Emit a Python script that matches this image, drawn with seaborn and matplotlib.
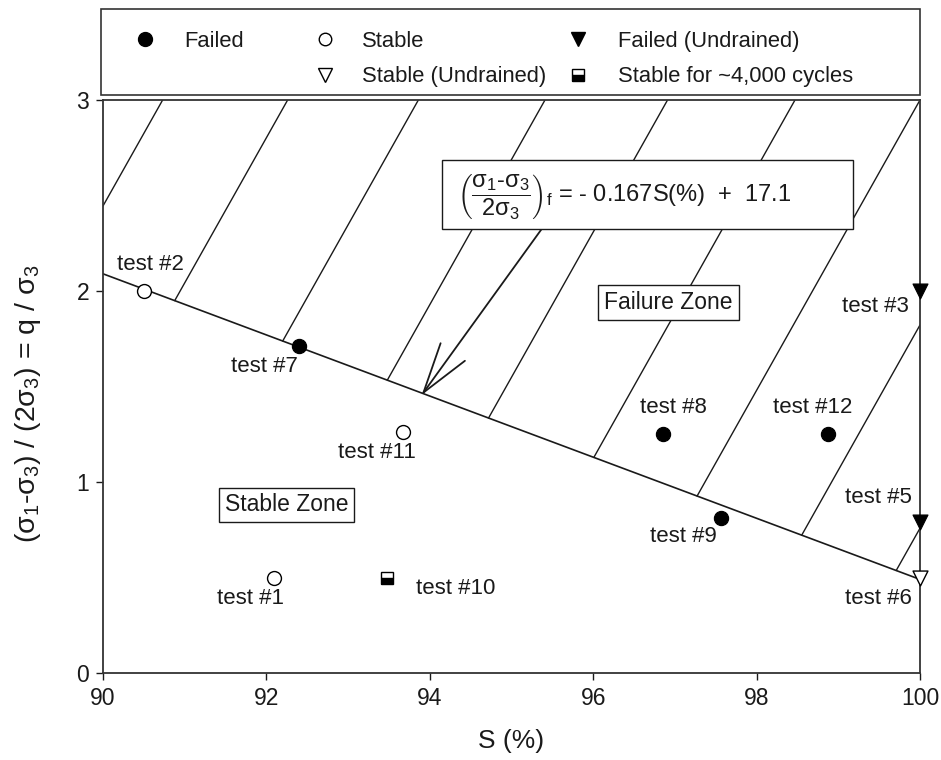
import numpy as np
import matplotlib
matplotlib.use("Agg")
import matplotlib.pyplot as plt
import seaborn as sns
import pandas as pd
from matplotlib.lines import Line2D
from matplotlib.patches import Rectangle

# ---------------- data ----------------
failed_x = [92.40, 96.85, 98.87, 97.56]
failed_y = [1.71, 1.25, 1.25, 0.81]
failed_lab = ["test #7", "test #8", "test #12", "test #9"]

stable_x = [90.50, 93.67, 92.09]
stable_y = [2.00, 1.26, 0.50]
stable_lab = ["test #2", "test #11", "test #1"]

failed_und_x = [100.0, 100.0]
failed_und_y = [2.00, 0.79]
failed_und_lab = ["test #3", "test #5"]

stable_und_x = [100.0]
stable_und_y = [0.50]
stable_und_lab = ["test #6"]

cycles_x = [93.48]
cycles_y = [0.50]
cycles_lab = ["test #10"]

# failure envelope (drawn line) end points
fail_line_x = [90.0, 100.0]
fail_line_y = [2.09, 0.49]

# hatch lines of the failure zone: x where they meet the top (y = 3)
hatch_top_x = [90.73, 92.26, 93.86, 95.41, 96.91, 98.47, 100.0, 101.55, 102.95]
hatch_slope = 0.76

x_ticks = [90, 92, 94, 96, 98, 100]
y_ticks = [0, 1, 2, 3]

# label offsets (points) for each test label
offsets = {
    "test #7": (-25, -14.5), "test #8": (8, 19.5), "test #12": (-11, 19.5),
    "test #9": (-27, -13), "test #2": (5, 19), "test #11": (-19, -14.5),
    "test #1": (-17, -15), "test #3": (-32, -11), "test #5": (-30, 18),
    "test #6": (-30, -15), "test #10": (49, -8),
}

# ---------------- style ----------------
sns.set_theme(style="ticks")
plt.rcParams["font.family"] = ["Liberation Sans", "DejaVu Sans"]
plt.rcParams["mathtext.fontset"] = "custom"
plt.rcParams["mathtext.rm"] = "Liberation Sans"
plt.rcParams["mathtext.it"] = "Liberation Sans"
plt.rcParams["mathtext.bf"] = "Liberation Sans:bold"
plt.rcParams["mathtext.default"] = "regular"

W, H = 941, 760
fig = plt.figure(figsize=(W / 100, H / 100), dpi=100)
ax = fig.add_axes([103 / W, 1 - 673 / H, (920 - 103) / W, (673 - 100) / H])
ink = "#1a1a1a"

# failure line
sns.lineplot(x=fail_line_x, y=fail_line_y, ax=ax, color=ink, lw=1.2, legend=False)

# hatch lines (clipped between failure line and the frame)
s_f = (fail_line_y[1] - fail_line_y[0]) / (fail_line_x[1] - fail_line_x[0])
for x0 in hatch_top_x:
    xi = (fail_line_y[0] - s_f * fail_line_x[0] - 3 + hatch_slope * x0) / (hatch_slope - s_f)
    xs = np.array([min(x0, 100.0), max(xi, 90.0)])
    ys = 3 + hatch_slope * (xs - x0)
    sns.lineplot(x=xs, y=ys, ax=ax, color=ink, lw=1.0, legend=False, sort=False)

# markers
sns.scatterplot(x=failed_x, y=failed_y, ax=ax, marker="o", s=105, color="black",
                edgecolor="black", zorder=5, clip_on=False)
sns.scatterplot(x=stable_x, y=stable_y, ax=ax, marker="o", s=100, facecolor="white",
                edgecolor="black", linewidth=1.0, zorder=5, clip_on=False)
sns.scatterplot(x=failed_und_x, y=failed_und_y, ax=ax, marker="v", s=115, color="black",
                edgecolor="black", zorder=5, clip_on=False)
sns.scatterplot(x=stable_und_x, y=stable_und_y, ax=ax, marker="v", s=115, facecolor="white",
                edgecolor="black", linewidth=1.0, zorder=5, clip_on=False)
ax.plot(cycles_x, cycles_y, ls="none", marker="s", ms=9, fillstyle="bottom",
        markerfacecolor="black", markerfacecoloralt="white", markeredgecolor="black",
        markeredgewidth=1.0, zorder=5, clip_on=False)

kw_lab = dict(fontsize=16, color=ink, ha="center", va="center")
for xs_, ys_, labs in [(failed_x, failed_y, failed_lab), (stable_x, stable_y, stable_lab),
                       (failed_und_x, failed_und_y, failed_und_lab),
                       (stable_und_x, stable_und_y, stable_und_lab),
                       (cycles_x, cycles_y, cycles_lab)]:
    for xx, yy, lab in zip(xs_, ys_, labs):
        ax.annotate(lab, (xx, yy), xytext=offsets[lab], textcoords="offset points", **kw_lab)

# zone boxes
ax.text(96.92, 1.94, "Failure Zone", fontsize=16.5, ha="center", va="center", color=ink,
        bbox=dict(boxstyle="square,pad=0.28", fc="white", ec=ink, lw=1.0), zorder=6)
ax.text(92.25, 0.88, "Stable Zone", fontsize=16.5, ha="center", va="center", color=ink,
        bbox=dict(boxstyle="square,pad=0.25", fc="white", ec=ink, lw=1.0), zorder=6)

# equation box and arrow
ax.add_patch(Rectangle((94.15, 2.325), 99.18 - 94.15, 2.686 - 2.325, fc="white",
                       ec=ink, lw=1.0, zorder=6))
ax.annotate("", xy=(93.90, 1.455), xytext=(95.37, 2.325),
            arrowprops=dict(arrowstyle="->,head_length=2.0,head_width=0.6", color=ink,
                            lw=1.3, shrinkA=0, shrinkB=0, mutation_scale=18), zorder=4)
ax.text(94.33, 2.49,
        r"$\left(\dfrac{\sigma_1\text{-}\sigma_3}{2\sigma_3}\right)_f$ = - 0.167S(%)  +  17.1",
        fontsize=17, ha="left", va="center", color=ink, zorder=7)

# axes
ax.set_xlim(90, 100)
ax.set_ylim(0, 3)
ax.set_xticks(x_ticks)
ax.set_yticks(y_ticks)
ax.tick_params(labelsize=16.5, colors=ink, length=5, width=1.0, direction="out", pad=5)
for sp in ax.spines.values():
    sp.set_visible(True)
    sp.set_color("#333333")
    sp.set_linewidth(1.3)
ax.set_xlabel("S (%)", fontsize=19, color=ink, labelpad=14)
ax.set_ylabel("(σ$_1$-σ$_3$) / (2σ$_3$) = q / σ$_3$", fontsize=20.5, color=ink)
ax.yaxis.set_label_coords(-0.074, 0.47)

# legend frame (above the plot)
fig.add_artist(Rectangle((101 / W, 1 - 95 / H), (920 - 101) / W, 86 / H,
                         transform=fig.transFigure, fill=False, ec="#333333", lw=1.2))

h_failed = Line2D([], [], ls="none", marker="o", ms=10, color="black")
h_stable = Line2D([], [], ls="none", marker="o", ms=9, mfc="white", mec="black", mew=1.0)
h_fu = Line2D([], [], ls="none", marker="v", ms=10, color="black")
h_su = Line2D([], [], ls="none", marker="v", ms=10, mfc="white", mec="black", mew=1.0)
h_cy = Line2D([], [], ls="none", marker="s", ms=8, fillstyle="bottom", mfc="black",
              mfcalt="white", mec="black", mew=1.0)

legend_cols = [
    ([h_failed], ["Failed"], 145, 1.3),
    ([h_stable, h_su], ["Stable", "Stable (Undrained)"], 325, 1.2),
    ([h_fu, h_cy], ["Failed (Undrained)", "Stable for ~4,000 cycles"], 578, 1.3),
]
fs_leg = 15.8
for hs, ls_, mx, pad in legend_cols:
    lg = fig.legend(hs, ls_, loc="upper left",
                    bbox_to_anchor=((mx - 0.5 * fs_leg * 100 / 72) / W, 1 - 31 / H),
                    bbox_transform=fig.transFigure, frameon=False, fontsize=fs_leg,
                    borderpad=0, borderaxespad=0, handlelength=1.0, handletextpad=pad,
                    labelspacing=0.65)
    for t in lg.get_texts():
        t.set_color(ink)

fig.savefig("out.png", dpi=100, facecolor="white")
